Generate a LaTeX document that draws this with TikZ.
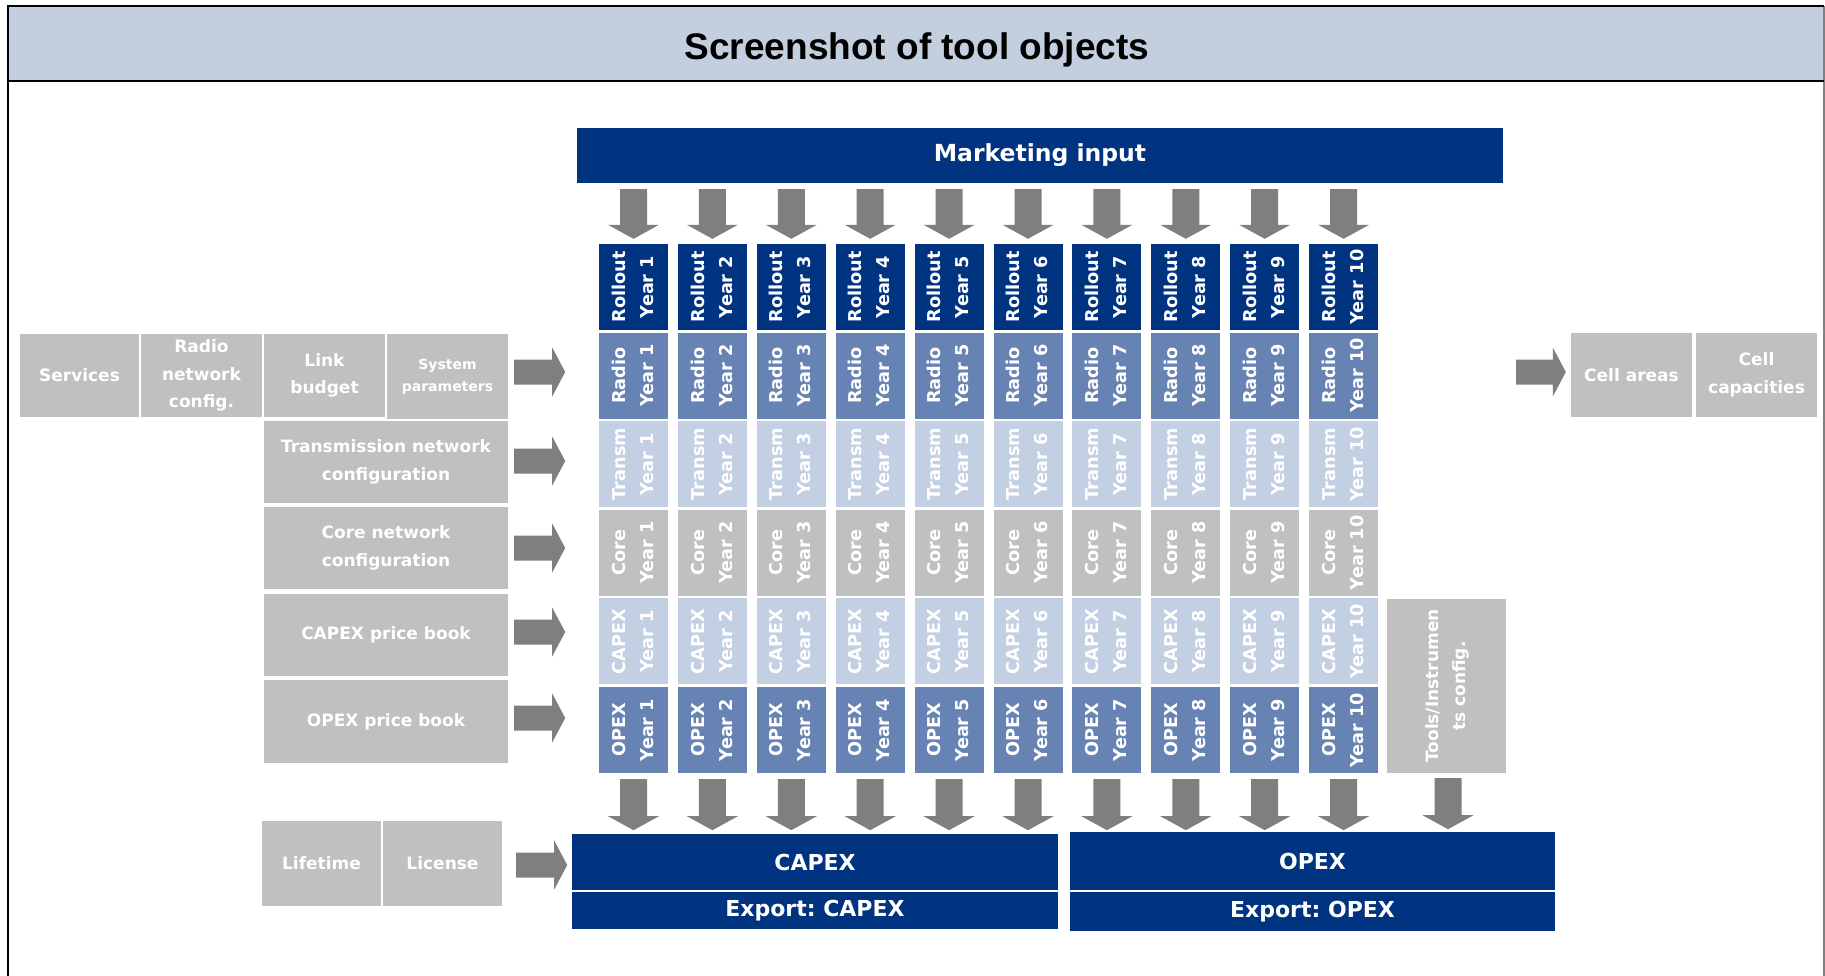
\documentclass[tikz,border=0pt]{standalone}
\usepackage{fontspec}
\setmainfont{DejaVu Sans}
\newfontfamily\titlefont{Liberation Sans}
\usetikzlibrary{calc}
\frenchspacing
\definecolor{navy}{HTML}{003380}
\definecolor{midblue}{HTML}{6783B3}
\definecolor{lightblue}{HTML}{C3CFE3}
\definecolor{cgray}{HTML}{C0C0C0}
\definecolor{headerblue}{HTML}{C3CEDF}
\definecolor{arrgray}{HTML}{7F7F7F}
\tikzset{
  cell/.style={rectangle, inner sep=0pt, minimum width=69pt, minimum height=86pt, text=white,
    font=\fontsize{17.7}{28}\selectfont\bfseries},
  gbox/.style={rectangle, fill=cgray, inner sep=0pt, text=white, align=center,
    font=\fontsize{17}{27.5}\selectfont\bfseries},
  nbox/.style={rectangle, fill=navy, inner sep=0pt, text=white, align=center,
    font=\fontsize{22}{26}\selectfont\bfseries},
  blockarrow/.style={fill=arrgray}
}
\newcommand{\arrdown}[2]{%
  \fill[blockarrow] let \p1=(#1), \p2=(#2) in
   ({\x2-13.5pt},{\y1}) -- ({\x2+13.5pt},{\y1}) -- ({\x2+13.5pt},{\y2+14pt}) --
   ({\x2+25.5pt},{\y2+14pt}) -- ({\x2},{\y2}) -- ({\x2-25.5pt},{\y2+14pt}) --
   ({\x2-13.5pt},{\y2+14pt}) -- cycle;}
\newcommand{\arrright}[2]{%
  \fill[blockarrow] let \p1=(#1), \p2=(#2) in
   ({\x1},{\y2+12.5pt}) -- ({\x2-13pt},{\y2+12.5pt}) -- ({\x2-13pt},{\y2+24.5pt}) --
   ({\x2},{\y2}) -- ({\x2-13pt},{\y2-24.5pt}) -- ({\x2-13pt},{\y2-12.5pt}) --
   ({\x1},{\y2-12.5pt}) -- cycle;}
\begin{document}
\begin{tikzpicture}[x=1pt,y=-1pt]
\useasboundingbox (0,0) rectangle (1825,975);
\clip (0,0) rectangle (1825,975);
% frame and header
\fill[headerblue] (8,6) rectangle (1824,81);
\draw[line width=2pt, gray] (1824,6) -- (1824,1000);
\draw[line width=2.5pt, black] (8,1000) -- (8,6) -- (1824,6);
\draw[line width=2.5pt, black] (8,81) -- (1824,81);
\node[font=\titlefont\fontsize{37}{42}\selectfont\bfseries] (title) at (917,50) {Screenshot of tool objects};

% marketing input
\node[nbox, minimum width=926pt, minimum height=55pt, font=\fontsize{23.5}{28}\selectfont\bfseries] (mi) at (1040,155.5) {Marketing input};

% grid of year columns
\foreach \k in {1,...,10} {
  \pgfmathsetmacro\cx{599+(\k-1)*78.9+34.5}
  \foreach \j/\lab/\col [count=\r from 0] in {ro/Rollout/navy, ra/Radio/midblue, tr/Transm/lightblue, co/Core/cgray, ca/CAPEX/lightblue, op/OPEX/midblue} {
    \pgfmathsetmacro\cy{244+\r*88.6+43}
    \node[cell, fill=\col] (\j\k) at (\cx,\cy) {\rotatebox{90}{\begin{tabular}{@{}c@{}}\lab\\Year \k\end{tabular}}};
  }
}

% left input boxes
\node[gbox, minimum width=119pt, minimum height=83pt] (serv) at (79.5,375.5) {Services};
\node[gbox, minimum width=121pt, minimum height=83pt] (rnc) at (201.5,375.5) {Radio\\network\\config.};
\node[gbox, minimum width=121pt, minimum height=83pt] (link) at (324.5,375.5) {Link\\budget};
\node[gbox, minimum width=121pt, minimum height=85pt, font=\fontsize{14}{22}\selectfont\bfseries] (sys) at (447.5,376.5) {System\\parameters};
\node[gbox, minimum width=244pt, minimum height=82pt] (trans) at (386,462) {Transmission network\\configuration};
\node[gbox, minimum width=244pt, minimum height=82pt] (core) at (386,548) {Core network\\configuration};
\node[gbox, minimum width=244pt, minimum height=82pt] (capexpb) at (386,635) {CAPEX price book};
\node[gbox, minimum width=244pt, minimum height=83pt] (opexpb) at (386,721.5) {OPEX price book};
\node[gbox, minimum width=119pt, minimum height=85pt] (life) at (321.5,863.5) {Lifetime};
\node[gbox, minimum width=119pt, minimum height=85pt] (lic) at (442.5,863.5) {License};

% right boxes
\node[gbox, minimum width=119pt, minimum height=174pt] (tools) at (1446.5,686) {\rotatebox{90}{\begin{tabular}{@{}c@{}}Tools/Instrumen\\ts config.\end{tabular}}};
\node[gbox, minimum width=121pt, minimum height=84pt] (cellar) at (1631.5,375) {Cell areas};
\node[gbox, minimum width=121pt, minimum height=84pt] (cellcap) at (1756.5,375) {Cell\\capacities};

% bottom boxes
\node[nbox, minimum width=486pt, minimum height=56pt] (capex) at (815,862) {CAPEX};
\node[nbox, minimum width=486pt, minimum height=37pt] (excapex) at (815,910.5) {Export: CAPEX};
\node[nbox, minimum width=485pt, minimum height=58pt] (opex) at (1312.5,861) {OPEX};
\node[nbox, minimum width=485pt, minimum height=39pt] (exopex) at (1312.5,911.5) {Export: OPEX};

% arrows
\foreach \k in {1,...,10} {
  \arrdown{$(mi.south -| ro\k.north)+(0,6)$}{$(ro\k.north)+(0,-5)$}
  \arrdown{$(op\k.south)+(0,6)$}{$(op\k.south)+(0,57)$}
}
\arrdown{$(tools.south)+(1.5,5)$}{$(tools.south)+(1.5,56)$}
\arrright{$(sys.east)+(6,-4.5)$}{$(sys.east)+(57,-4.5)$}
\arrright{$(trans.east)+(6,-1)$}{$(trans.east)+(57,-1)$}
\arrright{$(core.east)+(6,0)$}{$(core.east)+(57,0)$}
\arrright{$(capexpb.east)+(6,-3)$}{$(capexpb.east)+(57,-3)$}
\arrright{$(opexpb.east)+(6,-3.5)$}{$(opexpb.east)+(57,-3.5)$}
\arrright{$(lic.east)+(14,1.5)$}{$(lic.east)+(65,1.5)$}
\coordinate (cellstart) at (1516,372);
\arrright{cellstart}{$(cellar.west)+(-5,-3)$}
\end{tikzpicture}
\end{document}
